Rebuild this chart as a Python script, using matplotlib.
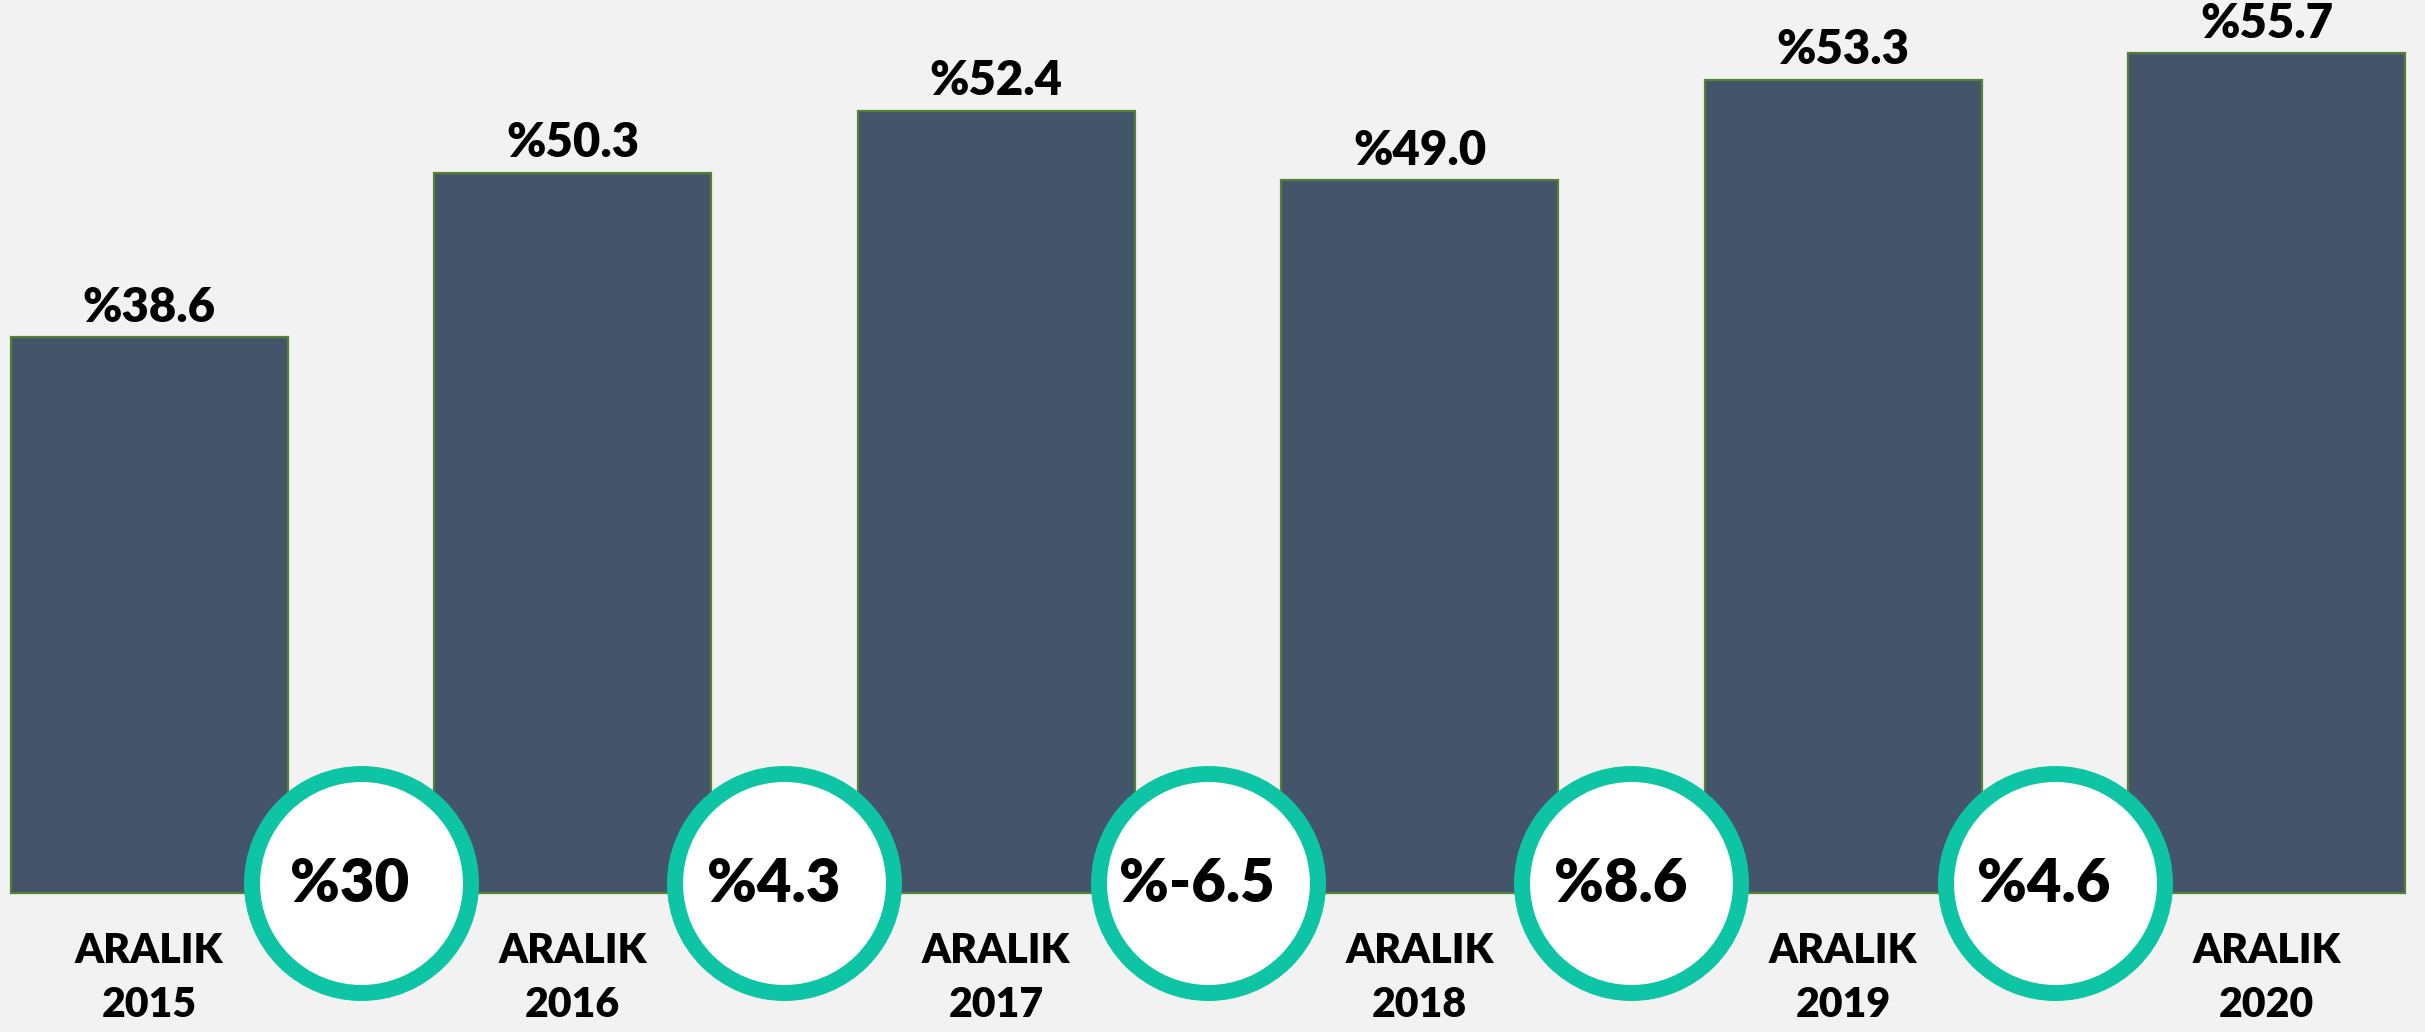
import matplotlib.pyplot as plt
import matplotlib.transforms as mtransforms

# data
years = ['2015', '2016', '2017', '2018', '2019', '2020']
pct_labels = [38.6, 50.3, 52.4, 49.0, 53.3, 55.7]      # text on top of bars
bar_heights = [37.6, 48.7, 52.9, 48.2, 55.0, 56.8]     # bar heights as drawn
changes = ['30', '4.3', '-6.5', '8.6', '4.6']            # yearly change in circles

bg = '#F2F2F2'
bar_color = '#44546A'
edge_color = '#548235'
ring_color = '#0DC5A5'

plt.rcParams['font.family'] = ['Lato', 'DejaVu Sans']

fig = plt.figure(figsize=(24.25, 10.32), dpi=100)
fig.patch.set_facecolor(bg)
ax = fig.add_axes([0, 0, 1, 1])
ax.set_facecolor(bg)
ax.axis('off')

x = list(range(len(years)))
ax.bar(x, bar_heights, width=0.654, color=bar_color, edgecolor=edge_color,
       linewidth=1.6, zorder=2)

ax.set_xlim(-0.352, 5.374)
ax.set_ylim(-9.4, 60.38)

# value labels above bars
for i in x:
    ax.annotate('%' + '%.1f' % pct_labels[i], xy=(i, bar_heights[i]),
                xytext=(0, 11), textcoords='offset points',
                ha='center', va='baseline', fontsize=34, fontweight='heavy')

# category labels under bars
for i in x:
    ax.annotate('ARALIK\n' + years[i], xy=(i, 0), xytext=(0, -61),
                textcoords='offset points', ha='center', va='center',
                fontsize=29.5, fontweight='heavy', linespacing=1.52)

# change circles between bars
mid = [i + 0.5 for i in range(len(changes))]
shift = mtransforms.offset_copy(ax.transData, fig=fig, x=0, y=9.5, units='dots')
ax.scatter(mid, [0] * len(mid), s=24863, facecolor='white', edgecolor=ring_color,
           linewidth=11.5, transform=shift, zorder=3, clip_on=False)
for i, c in enumerate(changes):
    ax.annotate('%' + c, xy=(mid[i], 0), xytext=(-8, 6), textcoords='offset points',
                ha='center', va='center', fontsize=43, fontweight='heavy', zorder=4)

plt.savefig('out.png', dpi=100, facecolor=bg)
